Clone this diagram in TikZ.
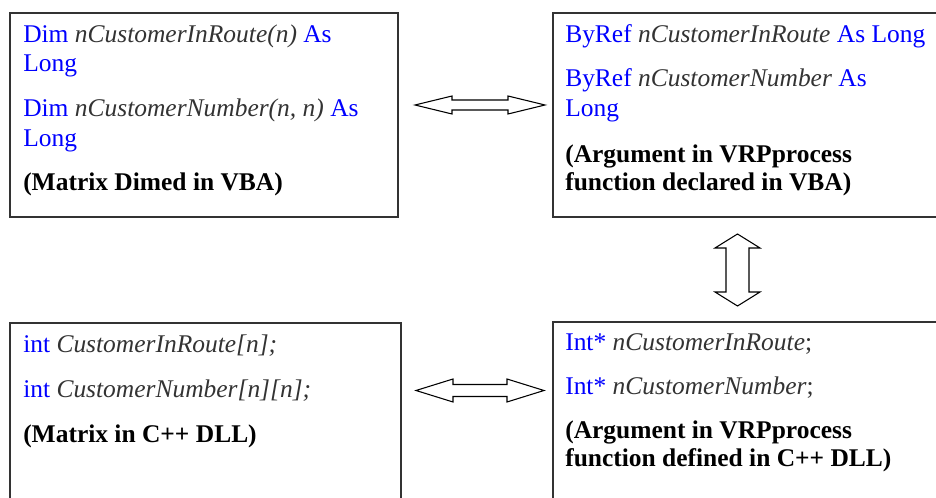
\documentclass[tikz,border=0pt]{standalone}
\usepackage{fontspec}
\setmainfont{Liberation Serif}
\usetikzlibrary{calc}
\definecolor{kw}{rgb}{0,0,1}
\definecolor{frame}{HTML}{333333}
\begin{document}
\begin{tikzpicture}[x=0.75pt,y=-0.75pt,
  box/.style={draw=frame,line width=1.1pt,rectangle,inner sep=0pt},
  txt/.style={anchor=base west,inner sep=0pt,font=\fontsize{19.1}{22}\selectfont},
  blockarrow/.style={draw=black,line width=0.8pt,fill=white,line join=miter}]
\newcommand{\kw}[1]{\textcolor{kw}{#1}}
\newcommand{\idf}[1]{\textcolor{black!80}{\textit{#1}}}
\clip (0,0) rectangle (936,498);
\useasboundingbox (0,0) rectangle (936,498);

% boxes
\node[box,minimum width=291pt,minimum height=153pt] (vbadim) at (204,115) {};
\node[box,minimum width=294.75pt,minimum height=153pt] (vbaref) at (749.5,115) {};
\node[box,minimum width=293.25pt,minimum height=150pt] (cppmat) at (205.5,423) {};
\node[box,minimum width=294.75pt,minimum height=150pt] (cpparg) at (749.5,422) {};

% VBA matrix
\node[txt] (t1) at (23,43) {\kw{Dim} \idf{nCustomerInRoute(n)} \kw{As}};
\node[txt] (t2) at (23,72) {\kw{Long}};
\node[txt] (t3) at (23,117) {\kw{Dim} \idf{nCustomerNumber(n, n)} \kw{As}};
\node[txt] (t4) at (23,147) {\kw{Long}};
\node[txt] (t5) at (23,191) {\textbf{(Matrix Dimed in VBA)}};

% VBA argument
\node[txt] (r1) at (565,43) {\kw{ByRef} \idf{nCustomerInRoute} \kw{As Long}};
\node[txt] (r2) at (565,87) {\kw{ByRef} \idf{nCustomerNumber} \kw{As}};
\node[txt] (r3) at (565,117) {\kw{Long}};
\node[txt] (r4) at (565,163) {\textbf{(Argument in VRPprocess}};
\node[txt] (r5) at (565,191) {\textbf{function declared in VBA)}};

% C++ matrix
\node[txt] (c1) at (23,353) {\kw{int} \idf{CustomerInRoute[n];}};
\node[txt] (c2) at (23,398) {\kw{int} \idf{CustomerNumber[n][n];}};
\node[txt] (c3) at (23,443) {\textbf{(Matrix in C++ DLL)}};

% C++ argument
\node[txt] (d1) at (565,351) {\kw{Int*} \idf{nCustomerInRoute}\textcolor{black!80}{;}};
\node[txt] (d2) at (565,395) {\kw{Int*} \idf{nCustomerNumber}\textcolor{black!80}{;}};
\node[txt] (d3) at (565,439) {\textbf{(Argument in VRPprocess}};
\node[txt] (d4) at (565,467) {\textbf{function defined in C++ DLL)}};

% block arrows
\coordinate (a1l) at (415,105);
\coordinate (a1r) at (545,105);
\draw[blockarrow] (a1l) -- ++(37,-9) -- ++(0,4) -- ($(a1r)+(-37,-5)$) -- ++(0,-4) -- (a1r)
  -- ++(-37,9) -- ++(0,-4) -- ($(a1l)+(37,5)$) -- ++(0,4) -- cycle;

\coordinate (a2l) at (416,390.5);
\coordinate (a2r) at (544,390.5);
\draw[blockarrow] (a2l) -- ++(37,-11.5) -- ++(0,5.5) -- ($(a2r)+(-37,-6)$) -- ++(0,-5.5) -- (a2r)
  -- ++(-37,11.5) -- ++(0,-5.5) -- ($(a2l)+(37,6)$) -- ++(0,5.5) -- cycle;

\coordinate (a3t) at (737.5,234);
\coordinate (a3b) at (737.5,306);
\draw[blockarrow] (a3t) -- ++(22.5,14) -- ++(-11,0) -- ($(a3b)+(11.5,-14)$) -- ++(11,0) -- (a3b)
  -- ++(-22.5,-14) -- ++(11,0) -- ($(a3t)+(-11.5,14)$) -- ++(-11,0) -- cycle;
\end{tikzpicture}
\end{document}
